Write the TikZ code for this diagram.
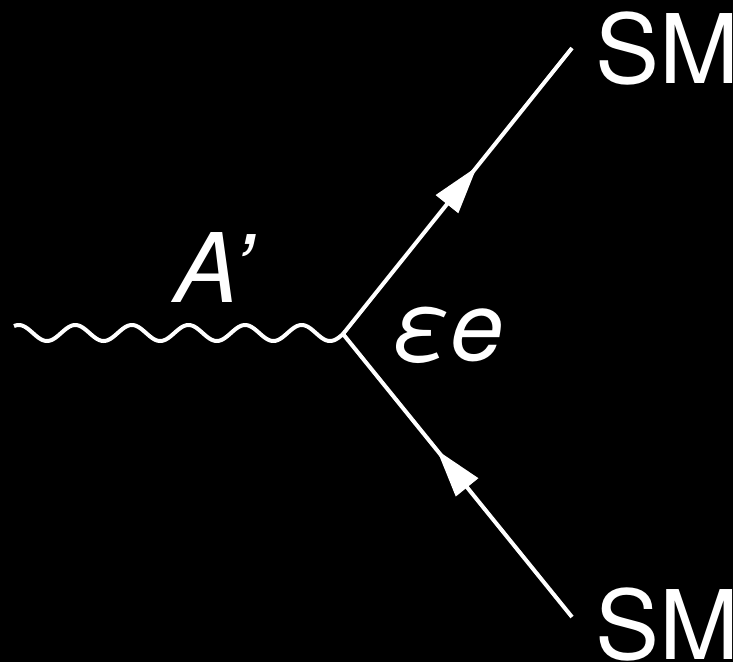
\documentclass[tikz,border=0pt]{standalone}
\usepackage{fontspec}
\setmainfont{TeX Gyre Heros}
\usetikzlibrary{arrows.meta,decorations.markings}
\tikzset{
  line/.style={white,line width=3pt},
  fermion/.style={line,postaction={decorate},decoration={markings,
    mark=at position #1 with {\arrow[white]{Triangle[length=36pt,width=21pt]}}}},
  lbl/.style={white,inner sep=0pt,anchor=base west,font=\fontsize{72}{72}\selectfont},
}
\begin{document}
\begin{tikzpicture}[x=0.75pt,y=-0.75pt]
\fill[black] (0,0) rectangle (733,662);
\useasboundingbox (0,0) rectangle (733,662);
\coordinate (v) at (343,334);
\coordinate (t) at (572,48);
\coordinate (b) at (572,617);
\draw[line] plot[domain=14:343,samples=240,smooth] (\x,{333+8*cos(6.3604*(\x-47))});
\draw[fermion=0.585] (v) -- (t);
\draw[fermion=0.59] (b) -- (v);
\node[lbl] (sm1) at (595,83) {SM};
\node[lbl] (sm2) at (595,659) {SM};
\node[lbl,font=\fontsize{72}{72}\selectfont\itshape] (ap) at (174,302) {A’};
\node[lbl,font=\fontsize{72}{72}\selectfont\itshape] (ee) at (391,360) {εe};
\end{tikzpicture}
\end{document}
